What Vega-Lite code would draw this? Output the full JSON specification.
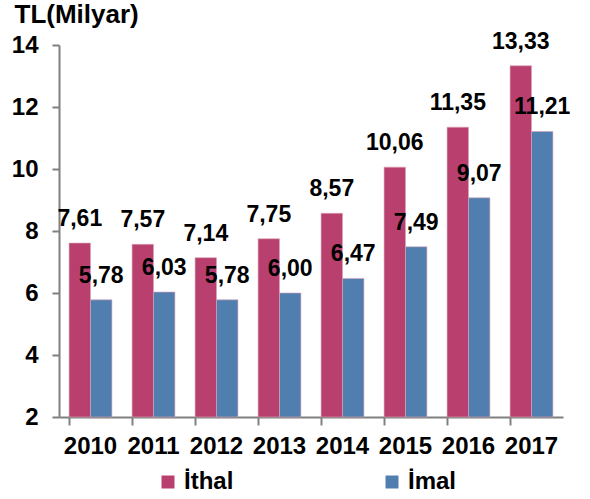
{
  "$schema": "https://vega.github.io/schema/vega-lite/v6.json",
  "width": 504,
  "height": 372,
  "autosize": {"type": "none"},
  "padding": {"left": 59, "top": 45, "right": 27, "bottom": 82},
  "background": "white",
  "config": {
    "view": {"stroke": null},
    "font": "Liberation Sans",
    "locale": {"number": {"decimal": ",", "thousands": ".", "grouping": [3], "currency": ["", " TL"]}}
  },
  "data": {
    "values": [
      {"year": "2010", "series": "İthal", "value": 7.61},
      {"year": "2010", "series": "İmal", "value": 5.78},
      {"year": "2011", "series": "İthal", "value": 7.57},
      {"year": "2011", "series": "İmal", "value": 6.03},
      {"year": "2012", "series": "İthal", "value": 7.14},
      {"year": "2012", "series": "İmal", "value": 5.78},
      {"year": "2013", "series": "İthal", "value": 7.75},
      {"year": "2013", "series": "İmal", "value": 6.00},
      {"year": "2014", "series": "İthal", "value": 8.57},
      {"year": "2014", "series": "İmal", "value": 6.47},
      {"year": "2015", "series": "İthal", "value": 10.06},
      {"year": "2015", "series": "İmal", "value": 7.49},
      {"year": "2016", "series": "İthal", "value": 11.35},
      {"year": "2016", "series": "İmal", "value": 9.07},
      {"year": "2017", "series": "İthal", "value": 13.33},
      {"year": "2017", "series": "İmal", "value": 11.21}
    ]
  },
  "encoding": {
    "x": {
      "field": "year", "type": "nominal",
      "scale": {"paddingInner": 0.32, "paddingOuter": 0.16},
      "axis": {
        "title": null, "labelAngle": 0, "labelFont": "Liberation Sans", "labelFontWeight": "bold",
        "labelFontSize": 24, "labelColor": "black", "labelPadding": 9,
        "domainColor": "#808080", "domainWidth": 2, "tickColor": "#808080", "tickWidth": 2, "tickSize": 8,
        "bandPosition": 0
      }
    },
    "xOffset": {"field": "series", "type": "nominal", "sort": ["İthal", "İmal"]},
    "y": {
      "field": "value", "type": "quantitative",
      "scale": {"domain": [2, 14], "zero": false, "nice": false},
      "axis": {
        "values": [2, 4, 6, 8, 10, 12, 14], "grid": false,
        "title": "TL(Milyar)", "titleAngle": 0, "titleAlign": "left", "titleBaseline": "alphabetic",
        "titleX": -45, "titleY": -23, "titleFont": "Liberation Sans", "titleFontSize": 26, "titleFontWeight": "bold", "titleColor": "black",
        "labelFont": "Liberation Sans", "labelFontWeight": "bold", "labelFontSize": 24, "labelColor": "black", "labelPadding": 14,
        "domainColor": "#808080", "domainWidth": 2, "tickColor": "#808080", "tickWidth": 2, "tickSize": 7
      }
    }
  },
  "layer": [
    {
      "mark": {"type": "bar", "strokeWidth": 1, "stroke": "#d9a3b8", "strokeOpacity": 0.6},
      "encoding": {
        "y2": {"datum": 2},
        "color": {
          "field": "series", "type": "nominal",
          "scale": {"domain": ["İthal", "İmal"], "range": ["#B9406E", "#4F7EAF"]},
          "legend": {
            "title": null, "orient": "none", "legendX": 97, "legendY": 425, "direction": "horizontal",
            "symbolType": "square", "symbolSize": 169, "symbolStrokeWidth": 0,
            "labelFont": "Liberation Sans", "labelFontSize": 24, "labelFontWeight": "bold", "labelColor": "black",
            "labelOffset": 4, "columnPadding": 146
          }
        }
      }
    },
    {
      "mark": {"type": "text", "baseline": "bottom", "dy": -12, "font": "Liberation Sans", "fontWeight": "bold", "fontSize": 23, "color": "black"},
      "encoding": {
        "text": {"field": "value", "type": "quantitative", "format": ".2f"}
      }
    }
  ]
}
